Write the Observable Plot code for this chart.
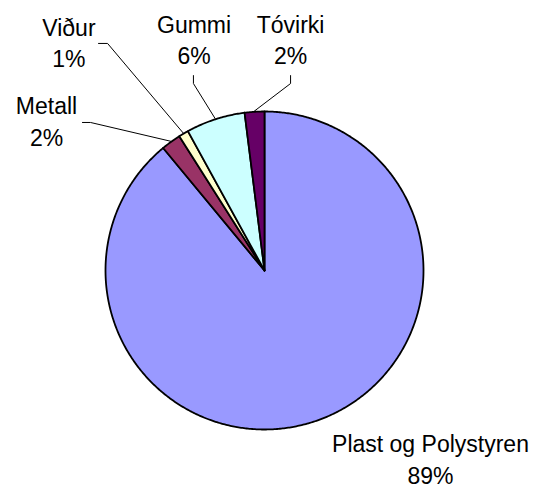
<!DOCTYPE html>
<html>
<head>
<meta charset="utf-8">
<script src="https://cdn.jsdelivr.net/npm/d3@7"></script>
<script src="https://cdn.jsdelivr.net/npm/@observablehq/plot@0.6"></script>
<style>
  html, body { margin: 0; padding: 0; background: #ffffff; }
  #chart { width: 542px; height: 488px; }
</style>
</head>
<body>
<div id="chart"></div>
<script>
// ---- data ----
const categories = ["Plast og Polystyren", "Metall", "Viður", "Gummi", "Tóvirki"];
const values = [89, 2, 1, 6, 2];
const valueLabels = ["89%", "2%", "1%", "6%", "2%"];

// ---- style ----
const palette = ["#9999FF", "#993366", "#FFFFCC", "#CCFFFF", "#660066"];

// ---- layout (pie in unit radius; label placement in pie-radius units) ----
const W = 542, H = 488;
const R = 159, CX = 264, CY = 270;
// label centre, and leader elbow/end (null = no leader), per category
const labelLayout = [
  {lx: 1.044, ly: -1.180, leader: null},
  {lx: -1.371, ly: 0.947, leader: [[-1.094, 0.931], [-1.145, 0.931]]},
  {lx: -1.230, ly: 1.439, leader: [[-0.987, 1.428], [-1.044, 1.428]]},
  {lx: -0.443, ly: 1.461, leader: [[-0.447, 1.176], [-0.447, 1.226]]},
  {lx: 0.164, ly: 1.461, leader: [[0.164, 1.176], [0.164, 1.226]]}
];

const total = d3.sum(values);
const rad = (deg) => deg * Math.PI / 180;
// angle measured clockwise from 12 o'clock
const polar = (deg, r) => ({x: r * Math.sin(rad(deg)), y: r * Math.cos(rad(deg))});

const slicePts = [];
const leaderPts = [];
const labels = [];
let start = 0;
categories.forEach((cat, i) => {
  const sweep = values[i] / total * 360;
  const end = start + sweep;
  const n = Math.max(2, Math.ceil(sweep / 0.5));
  slicePts.push({cat, x: 0, y: 0});
  for (let k = 0; k <= n; k++) {
    const p = polar(start + sweep * k / n, 1);
    slicePts.push({cat, x: p.x, y: p.y});
  }
  slicePts.push({cat, x: 0, y: 0});
  const mid = start + sweep / 2;
  const L = labelLayout[i];
  if (L.leader) {
    const a = polar(mid, 1.005);
    leaderPts.push({cat, x: a.x, y: a.y});
    L.leader.forEach(([x, y]) => leaderPts.push({cat, x, y}));
  }
  labels.push({cat, x: L.lx, y: L.ly, text: cat + "\n" + valueLabels[i]});
  start = end;
});

const chart = Plot.plot({
  width: W,
  height: H,
  margin: 0,
  x: {domain: [-CX / R, (W - CX) / R], axis: null},
  y: {domain: [-(H - CY) / R, CY / R], axis: null},
  color: {domain: categories, range: palette},
  style: {background: "#ffffff", fontFamily: "'Liberation Sans', Arial, sans-serif"},
  marks: [
    Plot.line(slicePts, {x: "x", y: "y", z: "cat", fill: "cat", stroke: "#000000", strokeWidth: 1.8, strokeLinejoin: "round", curve: "linear"}),
    Plot.line(leaderPts, {x: "x", y: "y", z: "cat", stroke: "#000000", strokeWidth: 1, curve: "linear"}),
    Plot.text(labels, {x: "x", y: "y", text: "text", fontSize: 23, lineHeight: 1.36, fill: "#000000", textAnchor: "middle"})
  ]
});
document.getElementById("chart").appendChild(chart);
</script>
</body>
</html>
